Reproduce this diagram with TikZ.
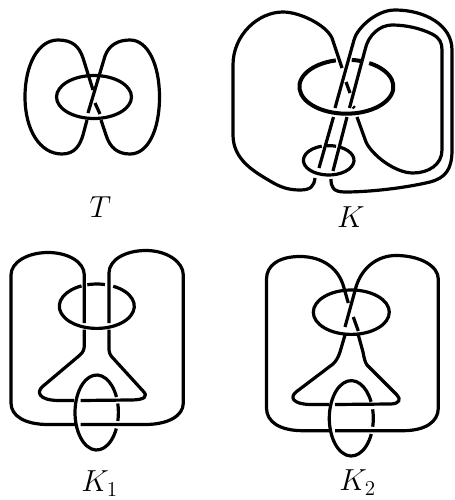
\documentclass[tikz,border=0pt]{standalone}
\usepackage{amsmath}
\usepackage{tikz}

\begin{document}
\begin{tikzpicture}[
    x=0.75pt, y=-0.75pt,
    knot/.style={line width=2.4pt, line join=round},
    bigknot/.style={line width=3pt, line join=round},
    knotname/.style={font=\fontsize{22}{26}\selectfont, anchor=base, scale=1.1},
]
\useasboundingbox (0,0) rectangle (454,500);

% ============ T ============
\draw[knot] (94,97) ellipse[x radius=37.5, y radius=21.5];
\draw[knot] (93,90) -- (83,58) .. controls (79,46) and (72,40) .. (58,40)
    .. controls (38,40) and (25,65) .. (25,97)
    .. controls (25,130) and (40,154) .. (62,154)
    .. controls (75,154) and (80,145) .. (83,135) -- (87,120);
\draw[knot] (88,113) -- (105,56) .. controls (109,45) and (118,40) .. (130,40)
    .. controls (148,40) and (159.5,65) .. (159.5,97)
    .. controls (159.5,130) and (148,154) .. (130,154)
    .. controls (118,154) and (110,148) .. (106,135) -- (101,120);
\draw[knot] (95,103) -- (100,114);
\node[knotname] (labelT) at (100.5,217) {$T$};

% ============ K ============
\coordinate (ovalKa) at (346.4,86.7);
\coordinate (ovalKb) at (328.7,160.3);
\draw[bigknot] (ovalKa) ++(299:47 and 27) arc[start angle=299, end angle=617, x radius=47, y radius=27];
\draw[bigknot] (ovalKa) ++(276.5:47 and 27) arc[start angle=276.5, end angle=287.7, x radius=47, y radius=27];
\draw[knot] (ovalKb) ++(296.5:25.3 and 14.7) arc[start angle=296.5, end angle=614, x radius=25.3, y radius=14.7];
\draw[knot] (ovalKb) ++(265.5:25.3 and 14.7) arc[start angle=265.5, end angle=287, x radius=25.3, y radius=14.7];

% left strand
\draw[knot] (315,178) .. controls (314,186) and (311,190) .. (300,190)
    .. controls (288,190) and (280,187) .. (270,181)
    .. controls (255,172) and (233,160) .. (233,135) -- (233,65)
    .. controls (233,35) and (258,12) .. (283,12)
    .. controls (300,12) and (326,25) .. (332,38) -- (342,68);
\draw[knot] (346,82) -- (350,93);
\draw[knot] (353,106.5) -- (354.5,108);
% outer strand of the pair
\draw[knot] (319,168) -- (333.5,117);
\draw[knot] (335,108) -- (354,40) .. controls (356,30) and (375,10) .. (395,10)
    .. controls (425,10) and (452,25) .. (452,50) -- (452,150)
    .. controls (452,170) and (445,178) .. (430,182)
    .. controls (405,188) and (370,192) .. (345,192)
    .. controls (333,192) and (331,187) .. (331,179);
% inner strand of the pair
\draw[knot] (333,171) -- (347,117);
\draw[knot] (349.5,108) -- (365,50) .. controls (368,35) and (380,25) .. (392,25)
    .. controls (405,25) and (420,28) .. (432,34)
    .. controls (440,38) and (442,43) .. (442,50) -- (442,150)
    .. controls (442,165) and (428,173) .. (413,173)
    .. controls (395,173) and (372,155) .. (366,142) -- (357,117);
\node[knotname] (labelK) at (351,227) {$K$};

% ============ K_1 ============
\coordinate (ovalAa) at (96.8,306.2);
\coordinate (ovalAb) at (96.7,412.5);
\draw[knot] (ovalAa) ++(296:37.5 and 22.2) arc[start angle=296, end angle=606, x radius=37.5, y radius=22.2];
\draw[knot] (ovalAa) ++(255.3:37.5 and 22.2) arc[start angle=255.3, end angle=282.6, x radius=37.5, y radius=22.2];
\draw[knot] (ovalAb) ++(25.3:21.7 and 37.5) arc[start angle=25.3, end angle=335.6, x radius=21.7, y radius=37.5];
\draw[knot] (ovalAb) ++(-13.9:21.7 and 37.5) arc[start angle=-13.9, end angle=13.1, x radius=21.7, y radius=37.5];

% outer arcs
\draw[knot] (84.3,323) -- (84.3,275) .. controls (84.3,262) and (68,252.5) .. (48,252.5)
    .. controls (28,252.5) and (11,262) .. (11,275) -- (11,403)
    .. controls (11,416) and (25,424.5) .. (48,424.5) -- (75,424.5);
\draw[knot] (109,323) -- (109,273) .. controls (109,260) and (125,250.5) .. (146,250.5)
    .. controls (167,250.5) and (183.3,262) .. (183.3,275) -- (183.3,403)
    .. controls (183.3,416) and (168,424.5) .. (145,424.5) -- (80.5,424.5);
% flask
\draw[knot] (84.3,329.5) -- (84.3,345) .. controls (84.3,350) and (83,352) .. (80,355)
    -- (42,387) .. controls (37,392) and (38,400) .. (58,400.5) -- (74,400.5);
\draw[knot] (80.7,400.5) -- (130,400) .. controls (146,400) and (148,396) .. (143,391)
    -- (112,357) .. controls (109.5,354) and (109,352) .. (109,348) -- (109,329.5);
\node[knotname] (labelKa) at (99.7,491.5) {$K_1$};

% ============ K_2 ============
\coordinate (ovalBa) at (351.3,312.2);
\coordinate (ovalBb) at (351.3,418.3);
\draw[knot] (ovalBa) ellipse[x radius=38, y radius=22.2];
\draw[knot] (ovalBb) ++(24.6:22 and 37.7) arc[start angle=24.6, end angle=333.9, x radius=22, y radius=37.7];
\draw[knot] (ovalBb) ++(-13.8:22 and 37.7) arc[start angle=-13.8, end angle=12.9, x radius=22, y radius=37.7];

% outer arcs
\draw[knot] (348.3,303) -- (344,288) .. controls (339,268) and (322,256.5) .. (300,256.5)
    .. controls (278,256.5) and (266.5,266) .. (266.5,279) -- (266.5,408)
    .. controls (266.5,422) and (280,430.7) .. (303,430.7) -- (329,430.7);
\draw[knot] (345,327) -- (356,287) .. controls (362,267) and (378,255.5) .. (396,255.5)
    .. controls (420,255.5) and (438.3,266) .. (438.3,279) -- (438.3,408)
    .. controls (438.3,422) and (425,430.7) .. (403,430.7) -- (335,430.7);
\draw[knot] (353.3,317) -- (358.3,331);
% flask
\draw[knot] (345,335) -- (340,352) .. controls (338,358) and (336,361) .. (333,364)
    -- (296,392) .. controls (290,397) and (292,404) .. (310,404.5) -- (329,404.5);
\draw[knot] (335,404.5) -- (390,404) .. controls (400,404) and (401,399) .. (397,395)
    -- (367,365) .. controls (365,362) and (364,358) .. (363,352) -- (358.3,335);
\node[knotname] (labelKb) at (357.7,490.5) {$K_2$};

\end{tikzpicture}
\end{document}
